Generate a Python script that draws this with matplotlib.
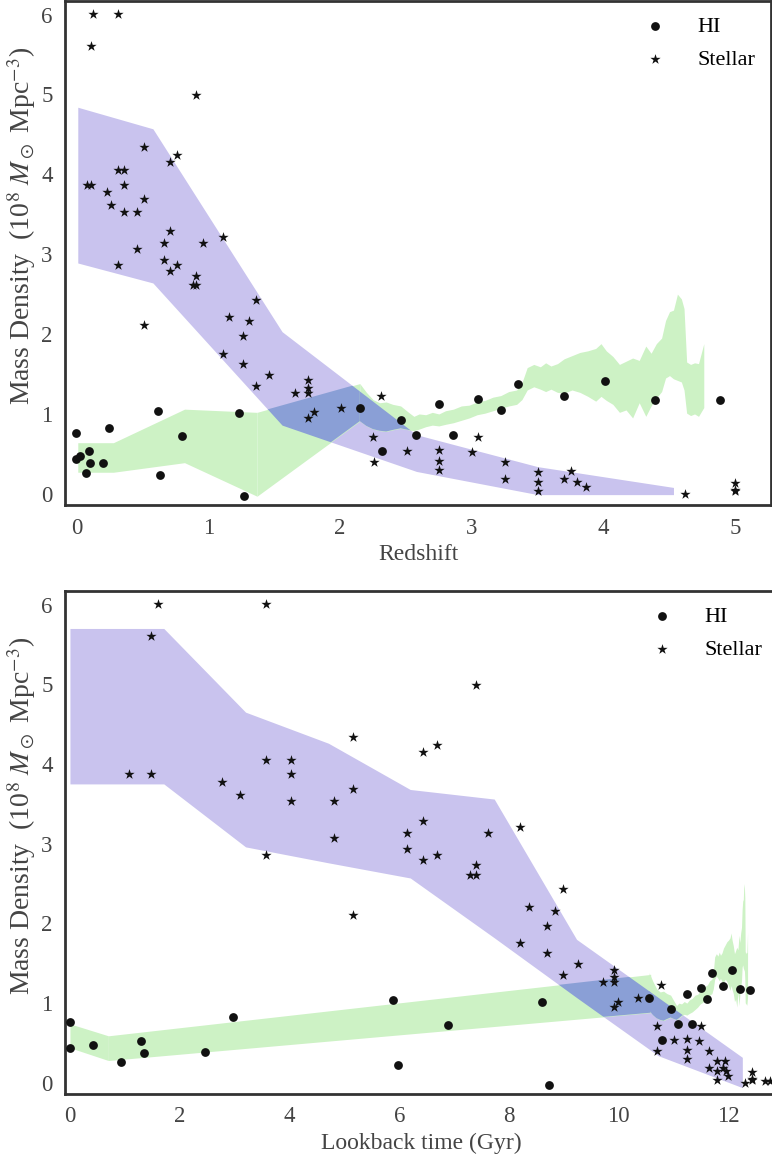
import numpy as np
import matplotlib
matplotlib.use("Agg")
import matplotlib.pyplot as plt

# HI measurements: redshift, mass density (1e8 Msun Mpc^-3)
hi_z = [0.0, 0.0, 0.03, 0.07, 0.098, 0.103, 0.20, 0.25, 0.62, 0.635, 0.80, 1.23,
        1.27, 2.15, 2.32, 2.46, 2.58, 2.75, 2.86, 3.05, 3.22, 3.35, 3.70, 4.01,
        4.39, 4.88]
hi_rho = [0.76, 0.44, 0.47, 0.26, 0.53, 0.38, 0.39, 0.83, 1.04, 0.23, 0.73, 1.01,
          -0.03, 1.07, 0.54, 0.93, 0.74, 1.12, 0.74, 1.19, 1.05, 1.38, 1.22, 1.41,
          1.18, 1.17]

# stellar measurements
star_z = [0.124, 0.313, 0.114, 0.91, 0.51, 0.76, 0.713, 0.313, 0.364, 0.081, 0.114,
          0.364, 0.23, 0.51, 0.263, 0.364, 0.463, 0.713, 1.11, 0.663, 0.96, 0.463,
          0.663, 0.313, 0.76, 0.713, 0.91, 0.885, 0.91, 1.36, 1.16, 1.31, 0.51, 1.26,
          1.11, 1.26, 1.46, 1.36, 1.76, 1.76, 1.76, 1.66, 1.80, 1.76, 2.01, 2.31,
          2.25, 2.51, 2.26, 3.05, 2.75, 2.75, 2.75, 3.00, 3.25, 3.25, 3.50, 3.50,
          3.50, 3.75, 3.70, 3.80, 3.87, 4.62, 5.0, 5.0, 5.0, 6.0, 6.5]
star_rho = [6.01, 6.01, 5.61, 4.99, 4.34, 4.24, 4.15, 4.05, 4.05, 3.87, 3.87,
            3.87, 3.78, 3.69, 3.61, 3.53, 3.53, 3.29, 3.21, 3.14, 3.14, 3.07,
            2.93, 2.86, 2.86, 2.79, 2.73, 2.61, 2.61, 2.43, 2.21, 2.16, 2.11, 1.97,
            1.75, 1.63, 1.49, 1.35, 1.42, 1.33, 1.26, 1.26, 1.02, 0.95, 1.07, 1.23,
            0.71, 0.54, 0.40, 0.71, 0.55, 0.41, 0.30, 0.52, 0.40, 0.18, 0.27, 0.15,
            0.04, 0.28, 0.18, 0.15, 0.09, 0.0, 0.13, 0.05, 0.03, 0.02, 0.02]

# stellar band vs redshift
sb_z = [0.01, 0.58, 1.56, 2.58, 3.5, 4.53]
sb_lo = [2.89, 2.64, 0.86, 0.28, -0.01, -0.01]
sb_hi = [4.84, 4.57, 2.03, 0.74, 0.34, 0.08]

# HI band vs redshift (two pieces)
hb1_z = [0.01, 0.28, 0.82, 1.37]
hb1_lo = [0.27, 0.27, 0.39, -0.03]
hb1_hi = [0.64, 0.64, 1.06, 1.02]
hb2_z = [1.37, 2.15]
hb2_lo = [-0.03, 0.91]
hb2_hi = [1.02, 1.38]

# simulated HI band
sim_z = [2.15, 2.20, 2.25, 2.30, 2.35, 2.40, 2.46, 2.52, 2.56, 2.60, 2.65, 2.70,
         2.75, 2.80, 2.86, 2.92, 2.98, 3.04, 3.10, 3.16, 3.22, 3.28, 3.34, 3.38,
         3.42, 3.47, 3.52, 3.56, 3.60, 3.65, 3.70, 3.76, 3.82, 3.88, 3.94, 3.98,
         4.02, 4.07, 4.12, 4.17, 4.22, 4.27, 4.32, 4.36, 4.40, 4.44, 4.47, 4.50,
         4.53, 4.56, 4.59, 4.61, 4.63, 4.66, 4.69, 4.72, 4.76]
sim_hi = [1.38, 1.27, 1.18, 1.14, 1.15, 1.12, 1.10, 1.02, 0.97, 1.00, 0.99, 1.02,
          1.00, 1.04, 1.06, 1.10, 1.11, 1.15, 1.17, 1.21, 1.23, 1.28, 1.30, 1.39,
          1.58, 1.62, 1.59, 1.64, 1.60, 1.63, 1.69, 1.73, 1.77, 1.79, 1.82, 1.88,
          1.79, 1.72, 1.62, 1.66, 1.70, 1.67, 1.85, 1.76, 1.88, 1.95, 2.17, 2.28,
          2.30, 2.50, 2.44, 2.32, 1.65, 1.62, 1.64, 1.63, 1.88]
sim_lo = [0.91, 0.85, 0.81, 0.79, 0.78, 0.80, 0.82, 0.80, 0.79, 0.81, 0.84, 0.86,
          0.85, 0.87, 0.89, 0.92, 0.95, 0.99, 1.01, 1.04, 1.07, 1.10, 1.12, 1.18,
          1.30, 1.34, 1.31, 1.28, 1.31, 1.27, 1.26, 1.30, 1.27, 1.22, 1.16, 1.22,
          1.17, 1.12, 1.02, 1.05, 0.95, 1.14, 0.97, 1.10, 1.20, 1.28, 1.45, 1.48,
          1.44, 1.42, 1.40, 1.30, 1.01, 0.98, 1.00, 0.97, 1.08]

# stellar band vs lookback time
lb_t = [0.0, 1.71, 3.2, 4.71, 6.2, 7.73, 9.23, 10.72, 12.25]
lb_lo = [3.75, 3.75, 2.96, 2.76, 2.57, 1.82, 1.07, 0.34, -0.06]
lb_hi = [5.70, 5.70, 4.65, 4.26, 3.68, 3.56, 1.80, 1.07, 0.32]

# HI band vs lookback time
lh1_t = [0.0, 0.7]
lh1_lo = [0.44, 0.28]
lh1_hi = [0.74, 0.59]
lh2_t = [0.7, 10.58]
lh2_lo = [0.28, 0.88]
lh2_hi = [0.59, 1.36]


def lookback(z, h0=69.4, om=0.3):
    ol = 1.0 - om
    a = 2 * (977.8 / h0) / (3 * np.sqrt(ol))
    k = np.sqrt(ol / om)
    age = lambda zz: a * np.arcsinh(k * (1 + np.asarray(zz, float)) ** -1.5)
    return age(0.0) - age(z)


PURPLE = '#c9c3ee'
GREEN = '#cdf2c5'
BLUE = '#8a9fd6'
INK = '#111111'
GREY = '#444444'

plt.rcParams['font.family'] = ['Liberation Serif', 'DejaVu Serif']
plt.rcParams['mathtext.fontset'] = 'stix'


def draw(ax, star_x, hi_x, stellar, hi_pieces):
    sx, slo, shi = stellar
    ax.fill_between(sx, slo, shi, color=PURPLE, lw=0, zorder=1)
    for x, lo, hi in hi_pieces:
        g = ax.fill_between(x, lo, hi, color=GREEN, lw=0, zorder=1)
        ov = ax.fill_between(sx, slo, shi, color=BLUE, lw=0, zorder=1.5)
        ov.set_clip_path(g.get_paths()[0], ax.transData)
    ax.scatter(hi_x, hi_rho, marker='o', s=40, color=INK, lw=0, zorder=3, label='HI')
    ax.scatter(star_x, star_rho, marker='*', s=60, color=INK, lw=0, zorder=3,
               label='Stellar')
    ax.set_ylim(-0.14, 6.17)
    ax.set_yticks(range(7))
    ax.tick_params(length=0, pad=9, labelsize=16.5, labelcolor=GREY)
    for s in ax.spines.values():
        s.set_color('#333333')
        s.set_linewidth(2)
    ax.set_ylabel(r'Mass Density  (10$^8$ $M_\odot$ Mpc$^{-3}$)', fontsize=20,
                  color=GREY)
    ax.yaxis.set_label_coords(-0.038, 0.553)
    ax.legend(loc='upper right', frameon=False, fontsize=16, handletextpad=0.9,
              labelspacing=0.55, borderaxespad=0.3)


fig = plt.figure(figsize=(7.72, 11.59), dpi=100)
W, H = 772, 1159

ax1 = fig.add_axes([65 / W, 1 - 505 / H, 706 / W, 504 / H])
draw(ax1, star_z, hi_z, (sb_z, sb_lo, sb_hi),
     [(hb1_z, hb1_lo, hb1_hi), (hb2_z, hb2_lo, hb2_hi),
      (sim_z, sim_lo, sim_hi)])
ax1.set_xlim(-0.087, 5.27)
ax1.set_xlabel('Redshift', fontsize=17, color=GREY)

ax2 = fig.add_axes([65 / W, 1 - 1094 / H, 713 / W, 503 / H])
draw(ax2, lookback(star_z), lookback(hi_z), (lb_t, lb_lo, lb_hi),
     [(lh1_t, lh1_lo, lh1_hi), (lh2_t, lh2_lo, lh2_hi),
      (lookback(sim_z), sim_lo, sim_hi)])
ax2.set_xlim(-0.09, 12.9)
ax2.set_xticks(range(0, 13, 2))
ax2.set_xlabel('Lookback time (Gyr)', fontsize=17, color=GREY)

fig.savefig('out.png', dpi=100)
